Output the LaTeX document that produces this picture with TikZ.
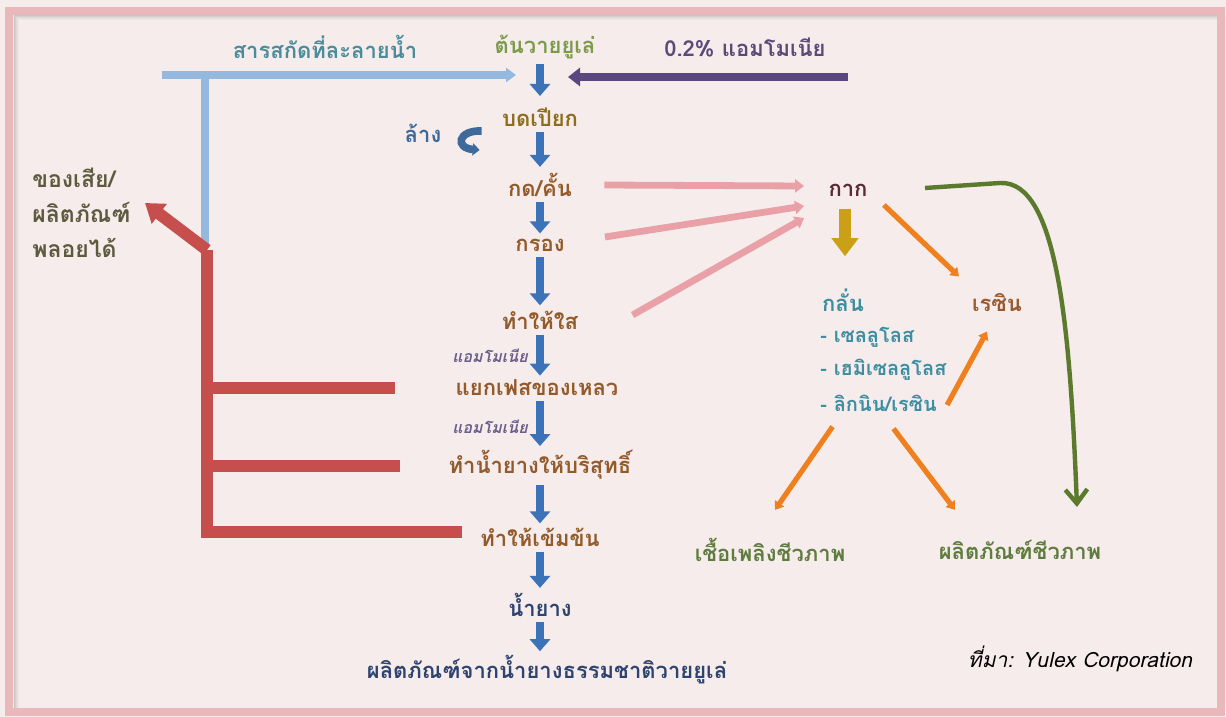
\documentclass[tikz,border=0pt]{standalone}
\usepackage{fontspec}
\usetikzlibrary{arrows.meta,calc}
\newfontfamily\thai[Script=Thai]{Loma}
\newfontfamily\thaisl[Script=Thai,FakeSlant=0.22]{Loma}
\definecolor{bgc}{HTML}{F7ECEC}
\definecolor{framec}{HTML}{E8B8BA}
\definecolor{lblue}{HTML}{94B8DE}
\definecolor{purp}{HTML}{5B4780}
\definecolor{dblue}{HTML}{3C72B8}
\definecolor{redc}{HTML}{C64E4C}
\definecolor{pinkc}{HTML}{E9A0A6}
\definecolor{orangec}{HTML}{F0801E}
\definecolor{goldc}{HTML}{CCA016}
\definecolor{greenc}{HTML}{5B7A2E}
\definecolor{tBrown}{HTML}{935A2A}
\definecolor{tOlive}{HTML}{8E6E1E}
\definecolor{tTeal}{HTML}{4A8C9A}
\definecolor{tGreen}{HTML}{7B9B4B}
\definecolor{tPurp}{HTML}{5B4A78}
\definecolor{tSmall}{HTML}{6A5E8A}
\definecolor{tWaste}{HTML}{5E5A3E}
\definecolor{tKak}{HTML}{5A2A35}
\definecolor{tCyan}{HTML}{3D8EA0}
\definecolor{tResin}{HTML}{9A5A30}
\definecolor{tBio}{HTML}{5E7C3E}
\definecolor{tNavy}{HTML}{2E4470}
\definecolor{tWash}{HTML}{3D6A9A}
\tikzset{
  lab/.style={font=\thai\bfseries\fontsize{11}{13}\selectfont, inner sep=1pt},
  biglab/.style={font=\thai\bfseries\fontsize{11.5}{17.5}\selectfont, inner sep=1pt},
  smalllab/.style={font=\thaisl\bfseries\fontsize{8}{9}\selectfont, inner sep=1pt, text=tSmall},
  listlab/.style={font=\thai\bfseries\fontsize{10}{12}\selectfont, inner sep=1pt, text=tCyan, anchor=west},
  barr/.style={draw=dblue, line width=3.6pt, -{Triangle[width=10pt,length=6pt]}},
  lbarr/.style={draw=lblue, line width=4pt},
  redl/.style={draw=redc, line width=6pt},
  pinkarr/.style={draw=pinkc, line width=3.4pt, -{Triangle[width=6.5pt,length=4.5pt]}},
  orarr/.style={draw=orangec, line width=2.6pt, -{Triangle[width=5.5pt,length=4pt]}},
}
\begin{document}
\begin{tikzpicture}[x=0.5pt,y=-0.5pt]
\useasboundingbox (0,0) rectangle (1226,717);
\fill[bgc] (0,0) rectangle (1226,717);
% inner shadow of frame
\foreach \i/\o in {1/0.30,2/0.22,3/0.15,4/0.09,5/0.05}{
  \draw[black!60, opacity=\o, line width=0.5pt] (13+\i,710) -- (13+\i,15+\i) -- (1217,15+\i);
}
\draw[framec, line width=4pt] (9,11) rectangle (1221,712);

% main column
\node[lab, text=tTeal] (ext) at (325,47) {สารสกัดที่ละลายน้ำ};
\node[lab, text=tGreen] (n0) at (545,47) {ต้นวายยูเล่};
\node[lab, text=tPurp] (amm) at (745,47) {0.2\% แอมโมเนีย};
\node[lab, text=tOlive] (n1) at (540,117) {บดเปียก};
\node[lab, text=tBrown] (n2) at (540,185) {กด/คั้น};
\node[lab, text=tBrown] (n3) at (540,245) {กรอง};
\node[lab, text=tBrown] (n4) at (540,320) {ทำให้ใส};
\node[lab, text=tBrown] (n5) at (537,388) {แยกเฟสของเหลว};
\node[lab, text=tBrown] (n6) at (540,465) {ทำน้ำยางให้บริสุทธิ์};
\node[lab, text=tBrown] (n7) at (540,537) {ทำให้เข้มข้น};
\node[lab, text=tNavy] (n8) at (540,605) {น้ำยาง};
\node[lab, text=tNavy] (n9) at (547,670) {ผลิตภัณฑ์จากน้ำยางธรรมชาติวายยูเล่};
\node[smalllab] (a1) at (490,356) {แอมโมเนีย};
\node[smalllab] (a2) at (490,427) {แอมโมเนีย};
\node[lab, text=tWash] (wash) at (423,133) {ล้าง};
\node[biglab, text=tWaste, align=left, anchor=north west] (waste) at (30,166) {ของเสีย/\\ผลิตภัณฑ์\\พลอยได้};

% right side
\node[lab, text=tKak] (kak) at (848,190) {กาก};
\node[lab, text=tCyan] (dist) at (843,300) {กลั่น};
\node[listlab] (l1) at (818,337) {- เซลลูโลส};
\node[listlab] (l2) at (818,370) {- เฮมิเซลลูโลส};
\node[listlab] (l3) at (818,403) {- ลิกนิน/เรซิน};
\node[lab, text=tResin] (resin) at (997,303) {เรซิน};
\node[lab, text=tBio] (fuel) at (770,550) {เชื้อเพลิงชีวภาพ};
\node[lab, text=tBio] (bprod) at (1020,550) {ผลิตภัณฑ์ชีวภาพ};
\node[font=\thaisl\fontsize{10.5}{12}\selectfont, text=black, inner sep=1pt] (src) at (1080,659) {ที่มา: Yulex Corporation};

% blue down arrows
\coordinate (d0a) at (540,64); \coordinate (d0b) at (540,96);
\draw[barr] (d0a) -- (d0b);
\draw[barr] ($(n1.south)+(0,3)$) -- ($(n2.north)+(0,-4)$);
\draw[barr] ($(n2.south)+(0,3)$) -- ($(n3.north)+(0,-3)$);
\draw[barr] ($(n3.south)+(0,3)$) -- ($(n4.north)+(0,-3)$);
\draw[barr] ($(n4.south)+(0,3)$) -- ($(n5.north -| n4.south)+(0,-2)$);
\draw[barr] ($(n5.south -| n4.south)+(0,3)$) -- ($(n6.north)+(0,-2)$);
\draw[barr] ($(n6.south)+(0,3)$) -- ($(n7.north)+(0,-2)$);
\draw[barr] ($(n7.south)+(0,3)$) -- ($(n8.north)+(0,-3)$);
\draw[barr] ($(n8.south)+(0,3)$) -- ($(n9.north -| n8.south)+(0,-2)$);

% top horizontal arrows
\coordinate (lbS) at (162,75);
\coordinate (lbJ) at (205,75);
\coordinate (lbB) at (205,247);
\draw[lbarr, -{Triangle[width=7pt,length=5pt]}] (lbS) -- ($(d0a)+(-24,11)$);
\draw[lbarr] (lbJ) -- (lbB);
\coordinate (puS) at (848,77);
\draw[draw=purp, line width=4.2pt, -{Triangle[width=9pt,length=6pt]}] (puS) -- ($(d0a)+(28,13)$);

% wash curved arrow
\draw[draw=tWash, line width=3.8pt, -{Triangle[width=6pt,length=3.5pt]}]
  ($(wash.east)+(38,-2)$) .. controls ($(wash.east)+(14,-3)$) and ($(wash.east)+(11,15)$) .. ($(wash.east)+(36,17)$);

% red waste structure
\coordinate (rTop) at (207,250);
\coordinate (rTip) at (145,203);
\draw[redl, -{Triangle[width=12pt,length=9pt]}] (rTop) -- (rTip);
\draw[redl, line join=miter] (rTop) -- (207,532) -- ($(n7.west)+(-16,-5)$);
\draw[redl] (207,388) -- ($(n5.west)+(-58,0)$);
\draw[redl] (207,466) -- ($(n6.west)+(-46,1)$);

% pink arrows to kak
\draw[pinkarr] ($(n2.east)+(30,0)$) -- ($(kak.west)+(-22,-4)$);
\draw[pinkarr] ($(n3.east)+(38,-8)$) -- ($(kak.west)+(-22,16)$);
\draw[pinkarr] ($(n4.east)+(52,-5)$) -- ($(kak.west)+(-22,28)$);

% gold arrow
\draw[draw=goldc, line width=6pt, -{Triangle[width=13pt,length=9pt]}] ($(kak.south)+(-3,10)$) -- ($(dist.north)+(2,-30)$);

% orange arrows
\draw[orarr] ($(kak.east)+(14,15)$) -- ($(resin.north)+(-38,-15)$);
\draw[orarr] ($(l3.east)+(8,2)$) -- ($(resin.south)+(-10,17)$);
\draw[orarr] ($(l3.south)+(-46,13)$) -- ($(fuel.north)+(5,-26)$);
\draw[orarr] ($(l3.south)+(15,15)$) -- ($(bprod.north)+(-65,-28)$);

% green curve
\coordinate (gS) at (925,188);
\coordinate (gE) at (1077,507);
\draw[draw=greenc, line width=2.2pt, -{Straight Barb[width=11pt,length=7pt,line width=2.2pt]}]
  (gS) -- (1000,183) .. controls (1058,180) and (1070,330) .. (gE);
\end{tikzpicture}
\end{document}
